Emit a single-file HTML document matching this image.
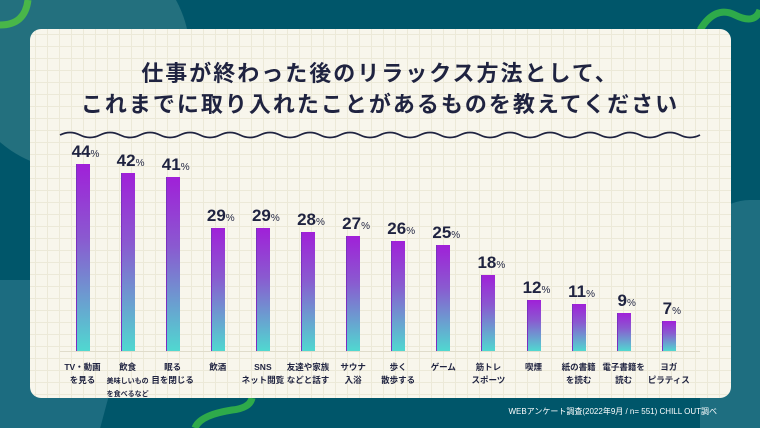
<!DOCTYPE html>
<html><head><meta charset="utf-8"><style>
*{margin:0;padding:0;box-sizing:border-box}
html,body{width:760px;height:428px;overflow:hidden}
body{background:#00566a;font-family:"Liberation Sans","Noto Sans CJK JP",sans-serif}
#w{position:relative;width:760px;height:428px;overflow:hidden}
.card{position:absolute;left:30px;top:29px;width:701px;height:369px;border-radius:11px;background-color:#f8f6ec;
background-image:linear-gradient(#ece9d8 1px,transparent 1px),linear-gradient(90deg,#ece9d8 1px,transparent 1px);background-size:12px 12px;background-position:5px 5px}
.t{position:absolute;left:0;width:760px;text-align:center;font-size:22px;font-weight:bold;color:#1f2340;letter-spacing:2px}
.bar{position:absolute;width:14px;bottom:77px;background:linear-gradient(#a020d8,#8a5ad0 40%,#50d8d0);border-left:1px solid #7a30c0}
.v{position:absolute;width:60px;text-align:center;font-size:17px;font-weight:bold;color:#1f2340}
.v small{font-size:10px;font-weight:normal}
.l{position:absolute;top:361px;width:60px;text-align:center;font-size:8.5px;font-weight:bold;color:#1f2340;line-height:13px;white-space:nowrap}
.base{position:absolute;left:60px;top:351px;width:640px;height:1px;background:#e0dccb}
</style></head><body><div id="w">
<div style="position:absolute;left:-40px;top:-60px;width:230px;height:230px;border-radius:50%;background:#23707e"></div>
<div style="position:absolute;left:-40px;top:280px;width:160px;height:148px;background:#1c6c80;transform:skewX(-15deg)"></div>
<div style="position:absolute;left:700px;top:200px;width:60px;height:228px;background:#1e6e80;border-radius:50px 0 0 0"></div>
<svg style="position:absolute;left:0;top:0" width="760" height="428">
<path d="M0 25 Q25 25 28 0" stroke="#49b649" stroke-width="7" fill="none"/>
<path d="M700 30 Q715 5 735 15 T760 10" stroke="#2eaa4a" stroke-width="7" fill="none"/>
<path d="M252 398 Q250 408 232 410 Q200 415 195 428" stroke="#2eaa4a" stroke-width="7" fill="none"/>
</svg>
<div class="card"></div>
<div class="t" style="top:56px">仕事が終わった後のリラックス方法として、</div>
<div class="t" style="top:87px">これまでに取り入れたことがあるものを教えてください</div>
<svg style="position:absolute;left:0;top:0" width="760" height="428">
<path d="M60 135 q10 -5 20 0 t20 0 t20 0 t20 0 t20 0 t20 0 t20 0 t20 0 t20 0 t20 0 t20 0 t20 0 t20 0 t20 0 t20 0 t20 0 t20 0 t20 0 t20 0 t20 0 t20 0 t20 0 t20 0 t20 0 t20 0 t20 0 t20 0 t20 0 t20 0 t20 0 t20 0 t20 0" stroke="#1f2340" stroke-width="1.8" fill="none"/>
</svg>
<div class="base"></div>
<div id="c"></div>
<div style="position:absolute;right:43px;top:406px;font-size:8px;color:#fff">WEBアンケート調査(2022年9月 / n= 551) CHILL OUT調べ</div>
</div>
<script>
var d=[[44,"TV・動画<br>を見る"],[42,"飲食<br><span style='font-size:7px;line-height:10px'>美味しいもの<br>を食べるなど</span>"],[41,"眠る<br>目を閉じる"],[29,"飲酒"],[29,"SNS<br>ネット閲覧"],[28,"友達や家族<br>などと話す"],[27,"サウナ<br>入浴"],[26,"歩く<br>散歩する"],[25,"ゲーム"],[18,"筋トレ<br>スポーツ"],[12,"喫煙"],[11,"紙の書籍<br>を読む"],[9,"電子書籍を<br>読む"],[7,"ヨガ<br>ピラティス"]];
var h="";d.forEach(function(e,i){var cx=82.5+i*45.1,bh=e[0]*4.25;
h+='<div class="bar" style="left:'+(cx-7)+'px;height:'+bh+'px"></div>';
h+='<div class="v" style="left:'+(cx-27)+'px;top:'+(351-bh-22)+'px">'+e[0]+'<small>%</small></div>';
h+='<div class="l" style="left:'+(cx-30)+'px">'+e[1]+'</div>';});
document.getElementById("c").innerHTML=h;
</script>
</body></html>
